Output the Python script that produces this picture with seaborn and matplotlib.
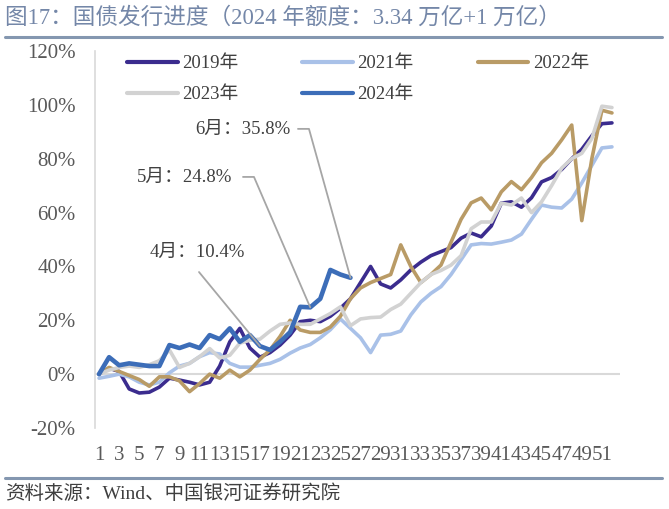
import matplotlib
matplotlib.use("Agg")
import matplotlib.pyplot as plt
from matplotlib.lines import Line2D
import seaborn as sns
import pandas as pd

# ---------------- data ----------------
weeks = list(range(1, 53))
x_ticks = list(range(1, 53, 2))
y_ticks = [-20, 0, 20, 40, 60, 80, 100, 120]

y2019 = [0, 2.2, 1, -5.5, -7, -6.7, -4.8, -1.5, -2.2, -3,
         -4, -3, 3, 12, 17, 9.7, 6.3, 8, 10.8, 14.5,
         19.5, 20, 19.5, 21.5, 24.5, 28, 34, 40, 33.5, 32,
         35, 38.7, 41.6, 44, 45.5, 47, 50.5, 52.4, 51, 55,
         63.5, 64, 62, 65.5, 71.4, 73, 76, 80, 83.5, 88.5,
         93, 93.3]
y2021 = [-1.5, -0.8, 0, -1, -3, -4, -3, 0.5, 3, 4,
         6.5, 8, 7.5, 4, 2.6, 2.6, 3.3, 4, 5.5, 7.8,
         9.7, 11, 13.5, 16.5, 20.5, 17, 13.5, 8, 14.5, 14.8,
         16, 22, 26.8, 30, 32.5, 37, 42.5, 48, 48.5, 48.3,
         49, 49.8, 52, 57.5, 62.8, 62, 61.7, 65, 71, 77.5,
         84, 84.4]
y2022 = [0, 2.5, 1, -0.5, -2, -4.5, -1, -1, -2.5, -6.5,
         -3.5, 0, -1.5, 1.5, -1, 1.5, 5.5, 9, 14, 20,
         16.4, 15.5, 15.5, 17.5, 21.5, 28, 32, 34, 35.5, 37,
         48, 40, 34, 37, 40.5, 49, 57.5, 63.6, 65.4, 61,
         67.7, 71.5, 68.5, 73, 78.5, 82, 87, 92.5, 57, 80,
         98, 97]
y2023 = [0, 1.5, 2.5, 3, 2.5, 3.5, 5, 9, 2.5, 4,
         6.5, 9.5, 6, 7, 11.5, 12.6, 13, 16, 18.5, 19,
         18.5, 18.5, 20.5, 22.5, 25, 18, 20.5, 21, 21.2, 24,
         26, 30, 34, 37, 38.5, 40.5, 44, 54, 56.5, 56.5,
         63.5, 62.8, 65.4, 60, 64, 70, 76.5, 80, 82, 87.5,
         99.5, 99]
y2024 = [0, 6.3, 3.3, 4, 3.5, 3, 3, 10.8, 9.7, 11,
         9.7, 14.5, 13, 17, 12, 14.5, 10.4, 9, 12, 15.6,
         25, 24.8, 28, 38.7, 37, 35.8]

series_names = ["2019年", "2021年", "2022年", "2023年", "2024年"]
series_values = [y2019, y2021, y2022, y2023, y2024]
series_colors = ["#3B2C8E", "#A9C1E8", "#B99B66", "#D2D2D2", "#3C6DB8"]
series_widths = [2.6, 2.6, 2.6, 2.6, 3.3]

title = "图17：国债发行进度（2024 年额度：3.34 万亿+1 万亿）"
source = "资料来源：Wind、中国银河证券研究院"
notes = ["4月：10.4%", "5月：24.8%", "6月：35.8%"]
note_weeks = [17, 22, 26]

# ---------------- style ----------------
sns.set_theme(style="white")
plt.rcParams["font.family"] = ["Liberation Serif", "Noto Sans CJK SC", "DejaVu Sans"]

fig = plt.figure(figsize=(6.69, 5.09), dpi=100)
ax = fig.add_axes([95 / 669, 1 - 428 / 509, 525 / 669, 377 / 509])

for name, vals, col, lw in zip(series_names, series_values, series_colors, series_widths):
    df = pd.DataFrame({"周": weeks[:len(vals)], "进度": vals})
    sns.lineplot(data=df, x="周", y="进度", color=col, linewidth=lw, ax=ax,
                 label=name, solid_capstyle="round", solid_joinstyle="round")

ax.axhline(0, color="#D9D9D9", lw=1.5, zorder=0)

ax.set_xlim(0.6, 52.8)
ax.set_ylim(-20, 120)
ax.set_xticks(x_ticks)
ax.set_xticklabels([str(t) for t in x_ticks])
ax.set_yticks(y_ticks)
ax.set_yticklabels([f"{t}%" for t in y_ticks])
ax.set_xlabel("")
ax.set_ylabel("")
ax.tick_params(axis="both", length=0, labelsize=15, colors="#595959")
ax.tick_params(axis="y", pad=14)
ax.tick_params(axis="x", pad=13)
for s in ["top", "right", "bottom"]:
    ax.spines[s].set_visible(False)
ax.spines["left"].set_color("#D9D9D9")
ax.spines["left"].set_linewidth(1.2)

# legend: row-major order for 3 columns
h, l = ax.get_legend_handles_labels()
order = [0, 3, 1, 4, 2]
leg = ax.legend([h[i] for i in order], [l[i] for i in order], ncol=3,
                loc="upper left", bbox_to_anchor=(127 / 669, 1 - 55 / 509),
                bbox_transform=fig.transFigure, frameon=False, fontsize=13.5,
                handlelength=2.7, handletextpad=0.25, columnspacing=3.4,
                labelspacing=0.75, borderpad=0, borderaxespad=0)
for t in leg.get_texts():
    t.set_color("#404040")
for lh in leg.get_lines():
    lh.set_linewidth(3.0)

# annotations for 2024
def px2data(px, py):
    return 1 + (px - 99) / 10.06, (374 - py) / 2.69

note_color = "#A6A6A6"
txt_pos = [(150, 252), (137, 177), (195, 130)]
for note, wk, (tx, ty) in zip(notes, note_weeks, txt_pos):
    dx, dy = px2data(tx, ty)
    ax.text(dx, dy, note, fontsize=13.5, color="#404040", ha="left", va="center")

pv = [y2024[w - 1] for w in note_weeks]
# 4月 leader
sx, sy = px2data(199, 272)
ax.plot([sx, note_weeks[0]], [sy, pv[0]], color=note_color, lw=1.3, zorder=6)
# 5月 leader
ax1, ay1 = px2data(243, 177)
ax2, ay2 = px2data(254, 177)
ax.plot([ax1, ax2, note_weeks[1]], [ay1, ay2, pv[1]], color=note_color, lw=1.3, zorder=6)
# 6月 leader
bx1, by1 = px2data(298, 129)
bx2, by2 = px2data(309, 129)
ax.plot([bx1, bx2, note_weeks[2]], [by1, by2, pv[2]], color=note_color, lw=1.3, zorder=6)

# title, rules, source
fig.text(5 / 669, 1 - 18 / 509, title, fontsize=16.3, color="#7487A8", va="center", ha="left")
fig.add_artist(Line2D([5 / 669, 662 / 669], [1 - 37 / 509] * 2, color="#8497B0", lw=2.2))
fig.add_artist(Line2D([5 / 669, 662 / 669], [1 - 478 / 509] * 2, color="#8497B0", lw=2.2))
fig.text(5 / 669, 1 - 494 / 509, source, fontsize=14, color="#3F3F3F", va="center", ha="left")

fig.savefig("out.png", dpi=100)
